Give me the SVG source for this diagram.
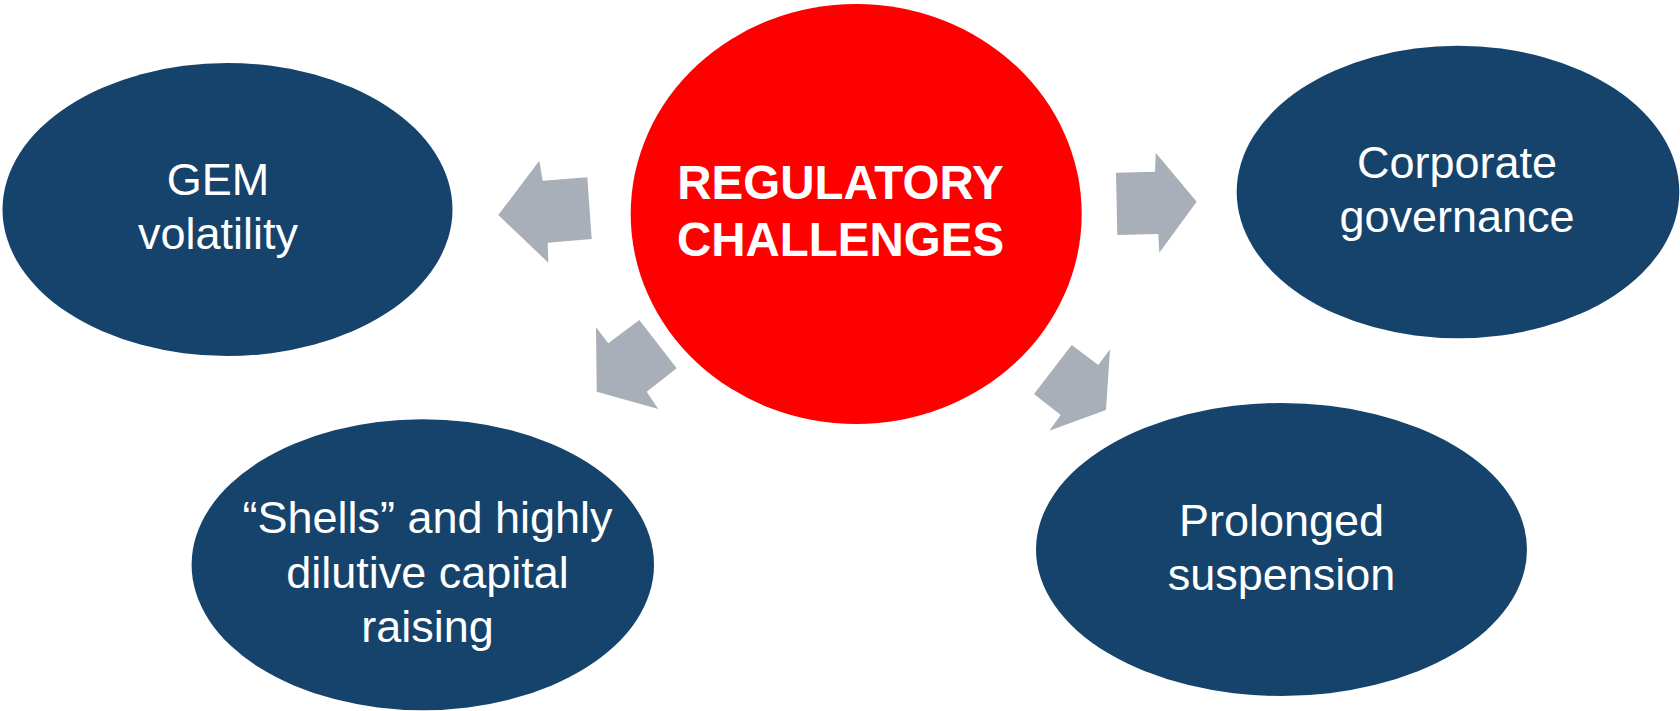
<svg xmlns="http://www.w3.org/2000/svg" width="1680" height="711" viewBox="0 0 1680 711">
<style>
.bg{fill:#ffffff}
.node{fill:#16436b}
.hub{fill:#fe0000}
.arrow{fill:#a9afb9}
.lbl{font-family:"Liberation Sans",Arial,sans-serif;font-size:45px;fill:#ffffff;text-anchor:middle}
.hubl{font-family:"Liberation Sans",Arial,sans-serif;font-size:47.5px;font-weight:bold;fill:#ffffff;text-anchor:middle}
</style>
<rect class="bg" x="0" y="0" width="1680" height="711"/>
<g id="connectors">
<polygon class="arrow" points="498.3,215 539.3,160.7 542.7,180.7 587.3,177.3 591.7,239 547.7,242.7 548.3,262.7"/>
<polygon class="arrow" points="639.3,320 676.7,368.3 646.7,391.7 658.3,409 596.7,391.7 596,327.3 608.3,343.3"/>
<polygon class="arrow" points="1116,172.7 1155,171.7 1155.7,152.7 1196.7,201.7 1159.3,252.7 1158.3,234 1117.3,235"/>
<polygon class="arrow" points="1071.7,345 1098.3,365 1110,349.3 1106,410 1049.3,430.7 1060.7,415 1034,394"/>
</g>
<g id="hub">
<ellipse class="hub" cx="856.2" cy="214" rx="225.5" ry="210"/>
<text class="hubl" x="840.5" y="199">REGULATORY</text>
<text class="hubl" x="840.5" y="256">CHALLENGES</text>
</g>
<g id="gem">
<ellipse class="node" cx="227.5" cy="209.5" rx="225" ry="146.5"/>
<text class="lbl" x="218" y="195">GEM</text>
<text class="lbl" x="218" y="249">volatility</text>
</g>
<g id="corporate">
<ellipse class="node" cx="1458" cy="192" rx="221.3" ry="146.2"/>
<text class="lbl" x="1457" y="178">Corporate</text>
<text class="lbl" x="1457" y="232">governance</text>
</g>
<g id="shells">
<ellipse class="node" cx="422.8" cy="564.7" rx="231.2" ry="145.5"/>
<text class="lbl" x="427.5" y="533">“Shells” and highly</text>
<text class="lbl" x="427.5" y="588">dilutive capital</text>
<text class="lbl" x="427.5" y="642">raising</text>
</g>
<g id="suspension">
<ellipse class="node" cx="1281.5" cy="549.5" rx="245.5" ry="146.5"/>
<text class="lbl" x="1281.5" y="536">Prolonged</text>
<text class="lbl" x="1281.5" y="590">suspension</text>
</g>
</svg>
